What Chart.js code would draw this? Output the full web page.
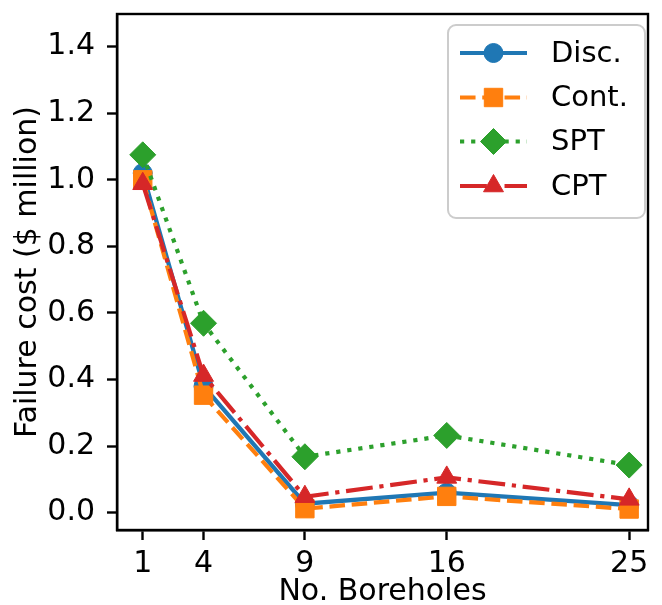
<!DOCTYPE html>
<html>
<head>
<meta charset="utf-8">
<script src="https://cdn.jsdelivr.net/npm/chart.js@4.4.1/dist/chart.umd.min.js"></script>
<style>
  html, body { margin: 0; padding: 0; background: #fff; }
  #wrap { width: 662px; height: 605px; position: relative; }
</style>
</head>
<body>
<div id="wrap"><canvas id="c" width="662" height="605"></canvas></div>
<script>
// ---- data ----
const boreholes = [1, 4, 9, 16, 25];
const discCost = [1.02, 0.38, 0.027, 0.060, 0.023];
const contCost = [1.00, 0.353, 0.012, 0.049, 0.011];
const sptCost  = [1.075, 0.569, 0.168, 0.232, 0.143];
const cptCost  = [0.988, 0.412, 0.048, 0.106, 0.040];
const seriesNames = ['Disc.', 'Cont.', 'SPT', 'CPT'];
const xTickValues = [1, 4, 9, 16, 25];
const yTickValues = [0.0, 0.2, 0.4, 0.6, 0.8, 1.0, 1.2, 1.4];

const FONT = "'DejaVu Sans', 'Liberation Sans', sans-serif";
const LW = 4.2;
const colors = ['#1f77b4', '#ff7f0e', '#2ca02c', '#d62728'];
const dashes = [[], [3.7*LW, 1.6*LW], [1*LW, 1.65*LW], [6.4*LW, 1.6*LW, 1*LW, 1.6*LW]];
const pStyles = ['circle', 'rect', 'rectRot', 'triangle'];
const pRadius = [9.5, 13, 13, 11.5];
const seriesValues = [discCost, contCost, sptCost, cptCost];

const datasets = seriesValues.map((vals, k) => ({
  label: seriesNames[k],
  data: boreholes.map((x, i) => ({x: x, y: vals[i]})),
  borderColor: colors[k],
  backgroundColor: colors[k],
  pointBackgroundColor: colors[k],
  pointBorderColor: colors[k],
  pointBorderWidth: 1,
  borderWidth: LW,
  borderDash: dashes[k],
  borderCapStyle: 'butt',
  pointStyle: pStyles[k],
  pointRadius: pRadius[k],
  pointHoverRadius: pRadius[k],
  tension: 0,
  fill: false,
  order: 4 - k,
  clip: 20
}));

function zeroPad(scale) {
  scale.paddingTop = 0; scale.paddingBottom = 0;
  scale.paddingLeft = 0; scale.paddingRight = 0;
}

const framePlugin = {
  id: 'frame',
  afterDatasetsDraw(chart) {
    const {ctx, chartArea: a} = chart;
    ctx.save();
    ctx.strokeStyle = '#000';
    ctx.lineWidth = 2.4;
    ctx.strokeRect(a.left, a.top, a.right - a.left, a.bottom - a.top);
    ctx.restore();
  }
};

const legendPlugin = {
  id: 'customLegend',
  afterDraw(chart) {
    const ctx = chart.ctx;
    ctx.save();
    const bx = 448, by = 25, bw = 197, bh = 193;
    ctx.beginPath();
    ctx.roundRect(bx, by, bw, bh, 8);
    ctx.fillStyle = 'rgba(255,255,255,0.85)';
    ctx.fill();
    ctx.strokeStyle = '#cccccc';
    ctx.lineWidth = 2;
    ctx.stroke();
    const rows = [53, 97.5, 141.5, 186];
    chart.data.datasets.forEach((ds, k) => {
      const y = rows[k];
      ctx.save();
      ctx.strokeStyle = ds.borderColor;
      ctx.lineWidth = LW;
      ctx.lineCap = 'butt';
      ctx.setLineDash(ds.borderDash);
      ctx.beginPath();
      ctx.moveTo(460, y);
      ctx.lineTo(527, y);
      ctx.stroke();
      ctx.restore();
      ctx.save();
      ctx.fillStyle = ds.pointBackgroundColor;
      ctx.strokeStyle = ds.pointBorderColor;
      ctx.lineWidth = 1;
      Chart.helpers.drawPoint(ctx, {pointStyle: ds.pointStyle, radius: ds.pointRadius, rotation: 0, borderWidth: 1}, 493.5, y);
      ctx.restore();
      ctx.fillStyle = '#000';
      ctx.font = '29px ' + FONT;
      ctx.textBaseline = 'middle';
      ctx.textAlign = 'left';
      ctx.fillText(ds.label, 551, y + 1);
    });
    ctx.restore();
  }
};

new Chart(document.getElementById('c'), {
  type: 'line',
  data: { datasets: datasets },
  options: {
    responsive: false,
    animation: false,
    devicePixelRatio: 1,
    layout: { padding: { left: 0, top: 11, right: 6, bottom: 0 } },
    plugins: { legend: { display: false }, tooltip: { enabled: false } },
    scales: {
      x: {
        type: 'linear',
        min: -0.27,
        max: 25.93,
        afterBuildTicks(scale) { scale.ticks = xTickValues.map(v => ({value: v})); },
        afterFit(scale) { scale.height = 75; zeroPad(scale); },
        grid: { display: true, drawOnChartArea: false, drawTicks: true, tickLength: 10, tickWidth: 2.4, tickColor: '#000' },
        border: { display: true, color: '#000', width: 2.4 },
        ticks: { color: '#000', font: { family: FONT, size: 30 }, padding: 6, maxRotation: 0, autoSkip: false,
                 callback: v => String(v) },
        title: { display: true, text: 'No. Boreholes', color: '#000', font: { family: FONT, size: 30, lineHeight: 1 }, padding: { top: 0, bottom: -2 } }
      },
      y: {
        type: 'linear',
        min: -0.052,
        max: 1.498,
        afterBuildTicks(scale) { scale.ticks = yTickValues.map(v => ({value: v})); },
        afterFit(scale) { scale.width = 117; zeroPad(scale); },
        grid: { display: true, drawOnChartArea: false, drawTicks: true, tickLength: 10, tickWidth: 2.4, tickColor: '#000' },
        border: { display: true, color: '#000', width: 2.4 },
        ticks: { color: '#000', font: { family: FONT, size: 30 }, padding: 12, autoSkip: false,
                 callback: v => Number(v).toFixed(1) },
        title: { display: true, text: 'Failure cost ($ million)', color: '#000', font: { family: FONT, size: 30, lineHeight: 1 }, padding: { top: 13, bottom: 0 } }
      }
    }
  },
  plugins: [framePlugin, legendPlugin]
});
</script>
</body>
</html>
